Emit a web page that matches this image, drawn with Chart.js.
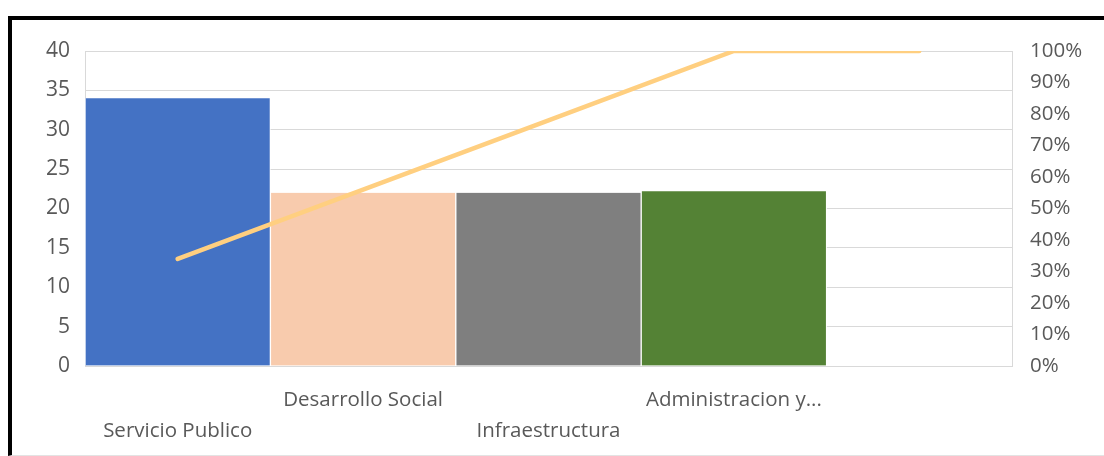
<!DOCTYPE html>
<html>
<head>
<meta charset="utf-8">
<script src="https://cdn.jsdelivr.net/npm/chart.js@4"></script>
<style>
  html, body { margin: 0; padding: 0; background: #fff; }
  #wrap { position: relative; width: 1104px; height: 456px; overflow: hidden; }
  #frame {
    position: absolute; left: 8px; top: 16px; right: -4px; bottom: 0;
    border-top: 4px solid #000; border-left: 4px solid #000;
    border-bottom: 1px solid #e3e3e3; box-sizing: border-box;
    pointer-events: none;
  }
  canvas { position: absolute; left: 0; top: 0; }
</style>
</head>
<body>
<div id="wrap">
  <canvas id="chart" width="1104" height="456"></canvas>
  <div id="frame"></div>
</div>
<script>
// categories (last slot is empty in the original)
const categories = ["Servicio Publico", "Desarrollo Social", "Infraestructura", "Administracion y...", ""];
const counts = [34, 22, 22, 22.2, null];
const cumulativePct = [34, 56, 78, 100, 100];
const barColors = ["#4472C4", "#F8CBAD", "#7F7F7F", "#548235", "#ffffff"];

const textColor = "#595959";
const gridColor = "#d9d9d9";
const fontFamily = "'Open Sans', 'Noto Sans', sans-serif";

new Chart(document.getElementById("chart"), {
  data: {
    labels: categories,
    datasets: [
      {
        type: "line",
        label: "Acumulado",
        data: cumulativePct,
        yAxisID: "y1",
        borderColor: "#FFCF80",
        borderWidth: 4.5,
        borderCapStyle: "round",
        pointRadius: 0,
        tension: 0,
        order: 0
      },
      {
        type: "bar",
        label: "Cantidad",
        data: counts,
        yAxisID: "y",
        backgroundColor: barColors,
        borderColor: "#ffffff",
        borderWidth: { left: 1, right: 1, top: 0, bottom: 0 },
        barPercentage: 1,
        categoryPercentage: 1,
        order: 1
      }
    ]
  },
  options: {
    responsive: false,
    animation: false,
    layout: { padding: { top: 51, left: 0, right: 0, bottom: 0 } },
    plugins: {
      legend: { display: false },
      tooltip: { enabled: false }
    },
    scales: {
      x: {
        offset: true,
        grid: { display: false },
        border: { display: true, color: gridColor },
        ticks: {
          color: textColor,
          font: { family: fontFamily, size: 20.5, lineHeight: "31px" },
          autoSkip: false,
          maxRotation: 0,
          padding: 11,
          // staggered labels like the original
          callback: function (value, index) {
            const lab = this.getLabelForValue(value);
            return index % 2 === 0 ? ["", lab] : [lab, ""];
          }
        },
        afterFit: (scale) => { scale.height = 90; }
      },
      y: {
        position: "left",
        min: 0,
        max: 40,
        grid: { color: gridColor, drawTicks: false },
        border: { display: true, color: gridColor },
        ticks: {
          stepSize: 5,
          color: textColor,
          padding: 15,
          font: { family: fontFamily, size: 21 }
        },
        afterFit: (scale) => { scale.width = 85; }
      },
      y1: {
        position: "right",
        min: 0,
        max: 100,
        grid: { display: false, drawTicks: false },
        border: { display: true, color: gridColor },
        ticks: {
          stepSize: 10,
          color: textColor,
          padding: 18,
          font: { family: fontFamily, size: 20.5 },
          callback: (v) => v + "%"
        },
        afterFit: (scale) => { scale.width = 92; }
      }
    }
  }
});
</script>
</body>
</html>
